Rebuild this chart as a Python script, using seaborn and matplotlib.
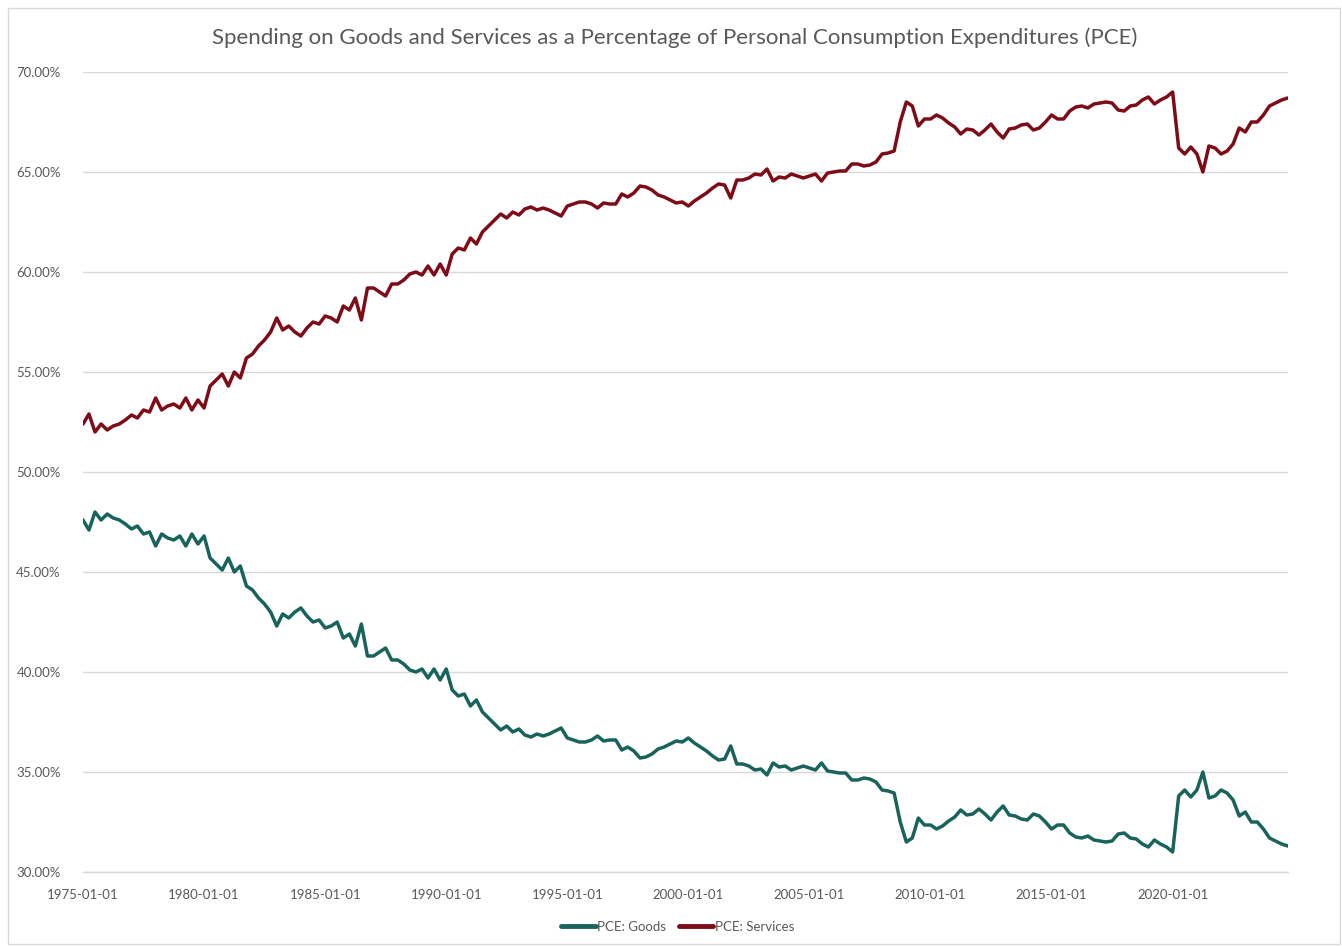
import matplotlib
matplotlib.use("Agg")
import matplotlib.pyplot as plt
import matplotlib.dates as mdates
from matplotlib.ticker import FuncFormatter, MultipleLocator
from matplotlib.patches import Rectangle
import numpy as np
import pandas as pd
import seaborn as sns

# ---------------- data (quarterly readings, % of PCE) ----------------
start_date = "1975-01-01"
services = [
    52.4, 52.9, 52.0, 52.4,
    52.1, 52.3, 52.4, 52.6,
    52.85, 52.7, 53.1, 53.0,
    53.7, 53.1, 53.3, 53.4,
    53.2, 53.7, 53.1, 53.6,
    53.2, 54.3, 54.6, 54.9,
    54.3, 55.0, 54.7, 55.7,
    55.9, 56.3, 56.6, 57.0,
    57.7, 57.1, 57.3, 57.0,
    56.8, 57.2, 57.5, 57.4,
    57.8, 57.7, 57.5, 58.3,
    58.1, 58.7, 57.6, 59.2,
    59.2, 59.0, 58.8, 59.4,
    59.4, 59.6, 59.9, 60.0,
    59.85, 60.3, 59.85, 60.4,
    59.85, 60.9, 61.2, 61.1,
    61.7, 61.4, 62.0, 62.3,
    62.6, 62.9, 62.7, 63.0,
    62.85, 63.15, 63.25, 63.1,
    63.2, 63.1, 62.95, 62.8,
    63.3, 63.4, 63.5, 63.5,
    63.4, 63.2, 63.45, 63.4,
    63.4, 63.9, 63.75, 63.95,
    64.3, 64.25, 64.1, 63.85,
    63.75, 63.6, 63.45, 63.5,
    63.3, 63.55, 63.75, 63.95,
    64.2, 64.4, 64.35, 63.7,
    64.6, 64.6, 64.7, 64.9,
    64.85, 65.15, 64.55, 64.75,
    64.7, 64.9, 64.8, 64.7,
    64.8, 64.9, 64.55, 64.95,
    65.0, 65.05, 65.05, 65.4,
    65.4, 65.3, 65.35, 65.5,
    65.9, 65.95, 66.05, 67.5,
    68.5, 68.3, 67.3, 67.65,
    67.65, 67.85, 67.7, 67.45,
    67.25, 66.9, 67.15, 67.1,
    66.85, 67.1, 67.4, 67.0,
    66.7, 67.15, 67.2, 67.35,
    67.4, 67.1, 67.2, 67.5,
    67.85, 67.65, 67.65, 68.05,
    68.25, 68.3, 68.2, 68.4,
    68.45, 68.5, 68.45, 68.1,
    68.05, 68.3, 68.35, 68.6,
    68.75, 68.4, 68.6, 68.75,
    69.0, 66.2, 65.9, 66.25,
    65.9, 65.0, 66.3, 66.2,
    65.9, 66.05, 66.4, 67.2,
    67.0, 67.5, 67.5, 67.85,
    68.3, 68.45, 68.6, 68.7,
]
goods = [
    47.6, 47.1, 48.0, 47.6,
    47.9, 47.7, 47.6, 47.4,
    47.15, 47.3, 46.9, 47.0,
    46.3, 46.9, 46.7, 46.6,
    46.8, 46.3, 46.9, 46.4,
    46.8, 45.7, 45.4, 45.1,
    45.7, 45.0, 45.3, 44.3,
    44.1, 43.7, 43.4, 43.0,
    42.3, 42.9, 42.7, 43.0,
    43.2, 42.8, 42.5, 42.6,
    42.2, 42.3, 42.5, 41.7,
    41.9, 41.3, 42.4, 40.8,
    40.8, 41.0, 41.2, 40.6,
    40.6, 40.4, 40.1, 40.0,
    40.15, 39.7, 40.15, 39.6,
    40.15, 39.1, 38.8, 38.9,
    38.3, 38.6, 38.0, 37.7,
    37.4, 37.1, 37.3, 37.0,
    37.15, 36.85, 36.75, 36.9,
    36.8, 36.9, 37.05, 37.2,
    36.7, 36.6, 36.5, 36.5,
    36.6, 36.8, 36.55, 36.6,
    36.6, 36.1, 36.25, 36.05,
    35.7, 35.75, 35.9, 36.15,
    36.25, 36.4, 36.55, 36.5,
    36.7, 36.45, 36.25, 36.05,
    35.8, 35.6, 35.65, 36.3,
    35.4, 35.4, 35.3, 35.1,
    35.15, 34.85, 35.45, 35.25,
    35.3, 35.1, 35.2, 35.3,
    35.2, 35.1, 35.45, 35.05,
    35.0, 34.95, 34.95, 34.6,
    34.6, 34.7, 34.65, 34.5,
    34.1, 34.05, 33.95, 32.5,
    31.5, 31.7, 32.7, 32.35,
    32.35, 32.15, 32.3, 32.55,
    32.75, 33.1, 32.85, 32.9,
    33.15, 32.9, 32.6, 33.0,
    33.3, 32.85, 32.8, 32.65,
    32.6, 32.9, 32.8, 32.5,
    32.15, 32.35, 32.35, 31.95,
    31.75, 31.7, 31.8, 31.6,
    31.55, 31.5, 31.55, 31.9,
    31.95, 31.7, 31.65, 31.4,
    31.25, 31.6, 31.4, 31.25,
    31.0, 33.8, 34.1, 33.75,
    34.1, 35.0, 33.7, 33.8,
    34.1, 33.95, 33.6, 32.8,
    33.0, 32.5, 32.5, 32.15,
    31.7, 31.55, 31.4, 31.3,
]
series_names = ["PCE: Goods", "PCE: Services"]
colors = {"PCE: Goods": "#19635d", "PCE: Services": "#7d0c18"}
title = "Spending on Goods and Services as a Percentage of Personal Consumption Expenditures (PCE)"
tick_years = list(range(1975, 2021, 5))

dates = pd.date_range(start_date, periods=len(services), freq="QS")
df = pd.concat([
    pd.DataFrame({"date": dates, "value": goods, "series": series_names[0]}),
    pd.DataFrame({"date": dates, "value": services, "series": series_names[1]}),
])

# ---------------- figure ----------------
sns.set_theme(style="white")
plt.rcParams["font.family"] = ["Lato", "DejaVu Sans"]

fig = plt.figure(figsize=(13.42, 9.46), dpi=100)
ax = fig.add_axes([83 / 1342, 1 - 872 / 946, (1288 - 83) / 1342, (872 - 72) / 946])

sns.lineplot(data=df, x="date", y="value", hue="series", palette=colors,
             hue_order=series_names, linewidth=2.5, ax=ax, legend=False)

ax.set_ylim(30, 70)
ax.yaxis.set_major_locator(MultipleLocator(5))
ax.yaxis.set_major_formatter(FuncFormatter(lambda v, p: f"{v:.2f}%"))
ax.set_xlim(pd.Timestamp(start_date), dates[-1] + pd.Timedelta(days=5))
ax.set_xticks([pd.Timestamp(f"{y}-01-01") for y in tick_years])
ax.xaxis.set_major_formatter(mdates.DateFormatter("%Y-%m-%d"))

ax.grid(axis="y", color="#d9d9d9", linewidth=1.0)
ax.set_axisbelow(True)
for s in ["top", "right", "left"]:
    ax.spines[s].set_visible(False)
ax.spines["bottom"].set_color("#d9d9d9")
ax.spines["bottom"].set_linewidth(1.0)
ax.tick_params(axis="both", length=0, labelsize=9.5, labelcolor="#595959")
ax.tick_params(axis="y", pad=16)
ax.tick_params(axis="x", pad=12)
ax.set_xlabel("")
ax.set_ylabel("")

fig.text(0.503, 0.96, title, ha="center", va="center", fontsize=16, color="#595959")

handles = [plt.Line2D([0], [0], color=colors[n], linewidth=3.5) for n in series_names]
fig.legend(handles, series_names, loc="center", bbox_to_anchor=(0.505, 0.02), ncol=2,
           frameon=False, fontsize=9.5, labelcolor="#595959", handlelength=2.6,
           handletextpad=0.1, columnspacing=1.0)

fig.patches.append(Rectangle((8 / 1342, 0.002), 1 - 10 / 1342, 1 - 10 / 946,
                             transform=fig.transFigure, fill=False,
                             edgecolor="#d9d9d9", linewidth=1.0))

fig.savefig("out.png", dpi=100)
